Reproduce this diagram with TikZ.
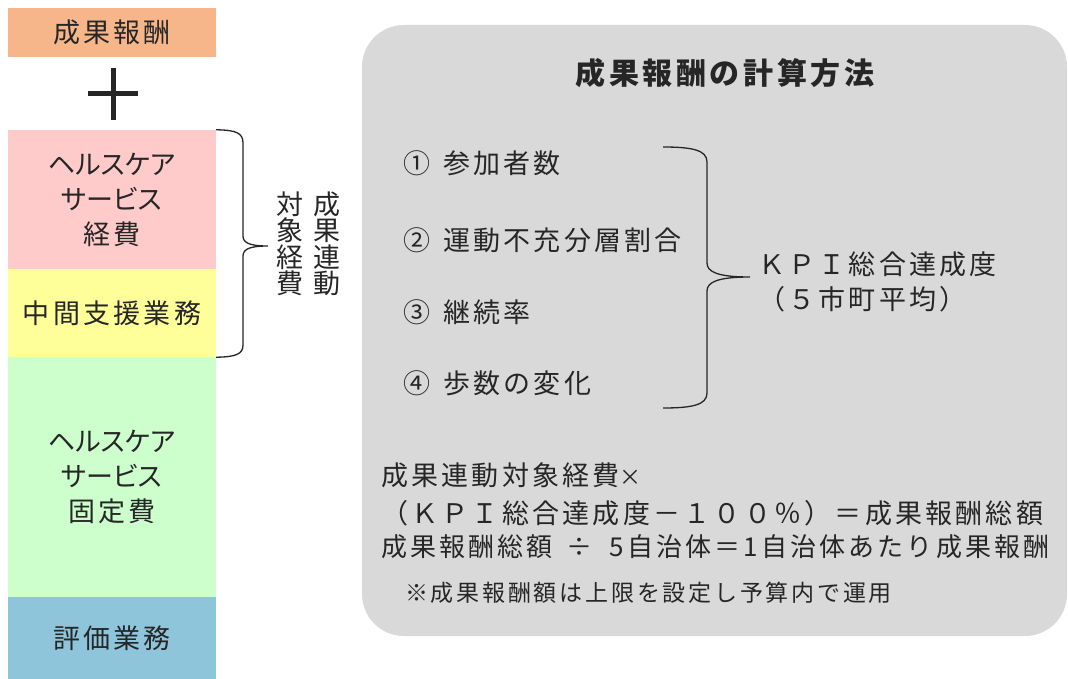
\documentclass[tikz,border=0pt]{standalone}
\usepackage{fontspec}
\newfontfamily\jp{Noto Sans CJK JP}[LetterSpace=12]
\newfontfamily\jpk{Noto Sans CJK JP}[RawFeature=+palt]
\newfontfamily\jpv{Noto Sans CJK JP}
\definecolor{ink}{HTML}{262626}
\definecolor{cOrange}{HTML}{F6B689}
\definecolor{cPink}{HTML}{FFCACA}
\definecolor{cYellow}{HTML}{FFFF99}
\definecolor{cGreen}{HTML}{CCFFCC}
\definecolor{cBlue}{HTML}{8FC5DA}
\definecolor{cGray}{HTML}{D9D9D9}
\begin{document}
\begin{tikzpicture}[x=1pt,y=-1pt,
  txt/.style={font=\jp\fontsize{27}{35}\selectfont, text=ink, inner sep=0pt},
  box/.style={txt, minimum width=208pt, inner sep=0pt, align=center},
  bracepath/.style={draw=ink, line width=1.3pt},
  panel/.style={fill=cGray, rounded corners=42pt, minimum width=705pt, minimum height=611pt, inner sep=0pt},
]
\useasboundingbox[fill=white] (0,0) rectangle (1068,679);
% left column
\node[box, fill=cOrange, minimum height=49pt] (reward) at (112,32.5) {成果報酬};
\draw[line width=5pt, ink] (88,94) -- (138,94) (113,68) -- (113,120);
\node[box, fill=cPink, minimum height=139pt] (hsvar) at (112,199.5) {{\jpk ヘルスケア}\\{\jpk サービス}\\経費};
\node[box, fill=cYellow, minimum height=88pt] (mid) at (112,313) {中間支援業務};
\node[box, fill=cGreen, minimum height=240pt] (hsfix) at (112,477) {{\jpk ヘルスケア}\\{\jpk サービス}\\固定費};
\node[box, fill=cBlue, minimum height=82pt] (evalb) at (112,638) {評価業務};
% left brace
\coordinate (lbtip) at (268,246);
\draw[bracepath] (hsvar.north east) .. controls (236,130) and (243,133) .. (243,143) -- (243,236)
  .. controls (243,243) and (250,246) .. (lbtip)
  .. controls (250,246) and (243,249) .. (243,256) -- (243,345)
  .. controls (243,354) and (236,357) .. (mid.south east);
\node[txt, font=\jpv\fontsize{27}{26.5}\selectfont, align=center] (vc1) at (327,244) {成\\果\\連\\動};
\node[txt, font=\jpv\fontsize{27}{26.5}\selectfont, align=center] (vc2) at (290,244) {対\\象\\経\\費};
% right panel
\node[panel] (panel) at (714.5,330.5) {};
\node[txt, font=\jp\bfseries\fontsize{30}{34}\selectfont] (title) at (725,73) {成果報酬の計算方法};
\node[txt, anchor=west] (k1) at (403,163) {①\hspace{13pt}参加者数};
\node[txt, anchor=west] (k2) at (403,240) {②\hspace{13pt}運動不充分層割合};
\node[txt, anchor=west] (k3) at (403,312) {③\hspace{13pt}継続率};
\node[txt, anchor=west] (k4) at (403,383) {④\hspace{13pt}歩数の変化};
\coordinate (rbt) at (663,147);
\coordinate (rbb) at (663,408);
\coordinate (rbtip) at (750,277);
\draw[bracepath] (rbt) .. controls (692,147) and (707,150) .. (707,162) -- (707,263)
  .. controls (707,272) and (718,277) .. (rbtip)
  .. controls (718,277) and (707,282) .. (707,291) -- (707,393)
  .. controls (707,405) and (692,408) .. (rbb);
\node[txt, anchor=west, align=left] (kpi) at (758,282) {ＫＰＩ総合達成度\\（５市町平均）};
\node[txt, anchor=west] (f1) at (381,475) {成果連動対象経費{\jpv\fontsize{22}{22}\selectfont ×}};
\node[txt, anchor=west] (f2) at (381,513) {（ＫＰＩ総合達成度－１００％）＝成果報酬総額};
\node[txt, anchor=west, font=\jp\fontsize{26}{30}\selectfont] (f3) at (381,547) {成果報酬総額\hspace{14pt}÷\hspace{17pt}5自治体＝1自治体あたり成果報酬};
\node[txt, anchor=west, font=\jp\fontsize{23}{26}\selectfont] (note) at (405,593) {※成果報酬額は上限を設定し予算内で運用};
\end{tikzpicture}
\end{document}
